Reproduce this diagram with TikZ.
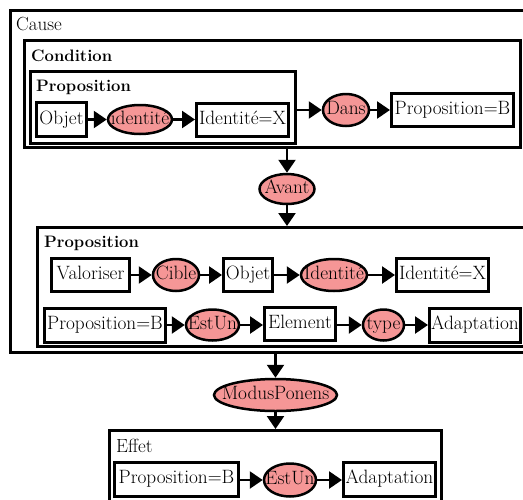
\documentclass[tikz,border=0pt]{standalone}
\usepackage{fontspec}
\usetikzlibrary{arrows.meta,shapes.geometric}
\definecolor{rel}{RGB}{245,150,150}
\tikzset{
  box/.style={draw=black, line width=3pt, fill=white, rectangle, inner sep=0pt,
              font=\fontsize{19.3}{22}\selectfont, text height=13pt, text depth=4pt},
  frame/.style={draw=black, line width=3pt, rectangle, inner sep=0pt},
  rel/.style={draw=black, line width=2.5pt, fill=rel, ellipse, inner sep=0pt,
              font=\fontsize{19.3}{22}\selectfont, text height=13pt, text depth=4pt},
  arr/.style={line width=2.5pt, -{Triangle[length=13pt,width=17pt]}},
  ttl/.style={anchor=base west, inner sep=0pt, font=\fontsize{16.6}{20}\selectfont\bfseries},
  ttlr/.style={anchor=base west, inner sep=0pt, font=\fontsize{19}{22}\selectfont},
}
\newcommand{\zt}[1]{\makebox[0pt]{#1}}
\begin{document}
\begin{tikzpicture}[x=1pt,y=-1pt]
\useasboundingbox (0,0) rectangle (523,499);
\clip (0,0) rectangle (523,499);
\fill[white] (0,0) rectangle (523,499);
% containers
\node[frame, minimum width=528pt, minimum height=342pt] (cause) at (274.5,181.5) {};
\node[ttlr] (causet) at (16,30) {Cause};
\node[frame, minimum width=496pt, minimum height=107pt] (cond) at (272.5,94) {};
\node[ttl] (condt) at (31,61) {Condition};
\node[frame, minimum width=265pt, minimum height=72pt] (prop1) at (163,107.5) {};
\node[ttl] (prop1t) at (36,91) {Proposition};
\node[frame, minimum width=501pt, minimum height=119pt] (prop2) at (288,287) {};
\node[ttl] (prop2t) at (44,247) {Proposition};
\node[frame, minimum width=332pt, minimum height=88pt] (effet) at (275.5,474.5) {};
\node[ttlr] (effett) at (116,452) {Effet};
% row 1
\node[box, minimum width=50pt, minimum height=34pt] (objet1) at (61.5,119.5) {Objet};
\node[rel, minimum width=64pt, minimum height=29pt] (id1) at (140,119.5) {\zt{identité}};
\node[box, minimum width=92pt, minimum height=33pt] (idx1) at (242.5,119.5) {Identité=X};
\node[rel, minimum width=46pt, minimum height=32pt] (dans) at (346,110) {\zt{Dans}};
\node[box, minimum width=122pt, minimum height=33pt] (propb1) at (452.5,110) {Proposition=B};
% avant
\node[rel, minimum width=55pt, minimum height=30pt] (avant) at (287,189) {\zt{Avant}};
% row 2
\node[box, minimum width=78pt, minimum height=33pt] (valo) at (90.5,275) {Valoriser};
\node[rel, minimum width=46pt, minimum height=32pt] (cible) at (176,275) {\zt{Cible}};
\node[box, minimum width=49pt, minimum height=33pt] (objet2) at (248,275) {Objet};
\node[rel, minimum width=66pt, minimum height=32pt] (id2) at (334,275) {\zt{Identité}};
\node[box, minimum width=92pt, minimum height=33pt] (idx2) at (442.5,275) {Identité=X};
% row 3
\node[box, minimum width=121pt, minimum height=34pt] (propb2) at (105,325) {Proposition=B};
\node[rel, minimum width=53pt, minimum height=31pt] (estun2) at (212.5,325) {\zt{EstUn}};
\node[box, minimum width=71pt, minimum height=33pt] (elem) at (300,324) {Element};
\node[rel, minimum width=41pt, minimum height=31pt] (type) at (383.5,325) {\zt{type}};
\node[box, minimum width=91pt, minimum height=34pt] (adapt2) at (475,325) {Adaptation};
% modus ponens
\node[rel, minimum width=123pt, minimum height=32pt] (mp) at (275.5,395) {\zt{ModusPonens}};
% row 4
\node[box, minimum width=124pt, minimum height=34pt] (propb3) at (176.5,479) {Proposition=B};
\node[rel, minimum width=52pt, minimum height=33pt] (estun3) at (290,480) {\zt{EstUn}};
\node[box, minimum width=92pt, minimum height=34pt] (adapt3) at (389.5,479) {Adaptation};
% connectors
\draw[arr] (objet1) -- (id1);
\draw[arr] (id1) -- (idx1);
\draw[arr] (prop1.east |- dans) -- (dans);
\draw[arr] (dans) -- (propb1);
\draw[arr] (cond.south -| avant) -- (avant);
\draw[arr] (avant) -- (prop2.north -| avant);
\draw[arr] (valo) -- (cible);
\draw[arr] (cible) -- (objet2);
\draw[arr] (objet2) -- (id2);
\draw[arr] (id2) -- (idx2);
\draw[arr] (propb2.east |- estun2) -- (estun2);
\draw[arr] (estun2) -- (elem.west |- estun2);
\draw[arr] (elem.east |- type) -- (type);
\draw[arr] (type) -- (adapt2);
\draw[arr] (cause.south -| mp) -- (mp);
\draw[arr] (mp) -- (effet.north -| mp);
\draw[arr] (propb3.east |- estun3) -- (estun3);
\draw[arr] (estun3) -- (adapt3.west |- estun3);
\end{tikzpicture}
\end{document}
